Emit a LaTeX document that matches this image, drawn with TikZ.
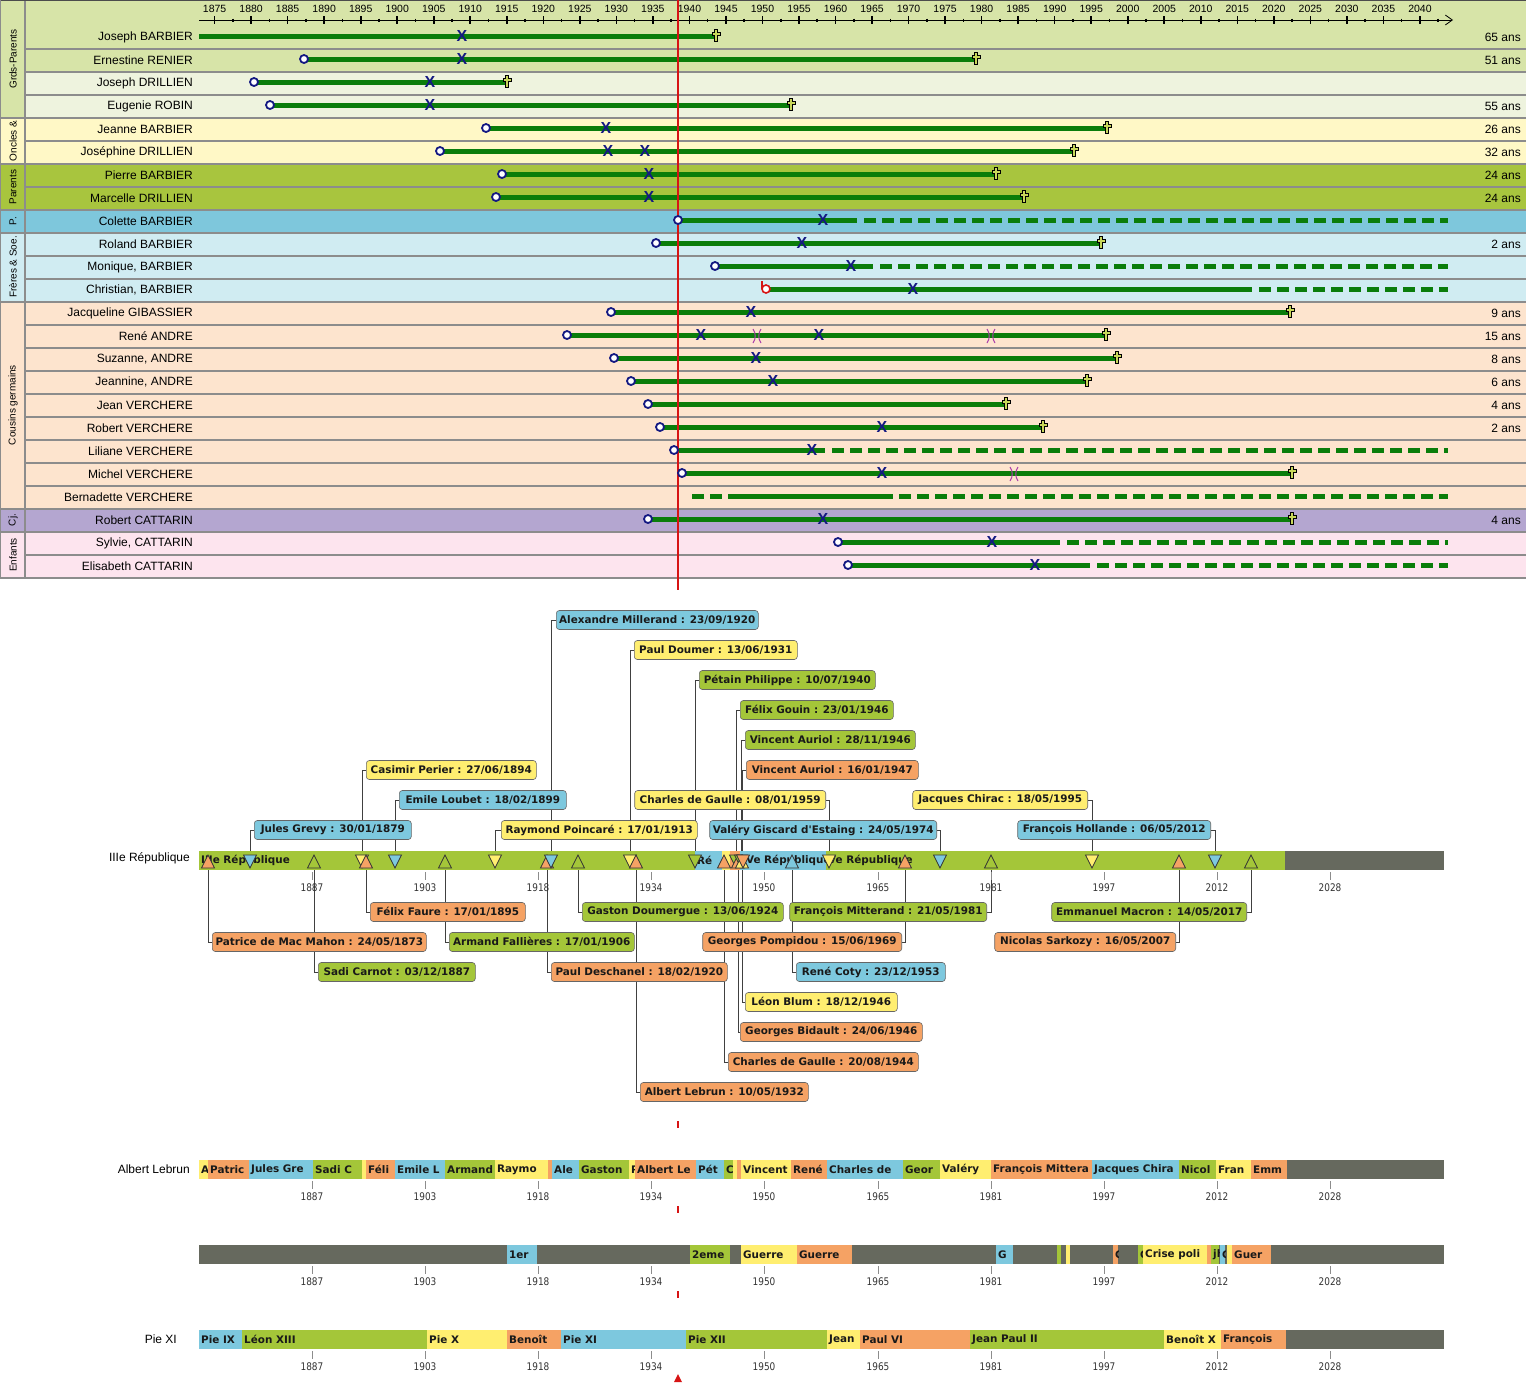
\documentclass[tikz,border=0pt]{standalone}
\usepackage{fontspec}
\setmainfont{Liberation Sans}
\newfontfamily\tahb{DejaVu Sans}
\newfontfamily\tahc[FakeStretch=0.85]{DejaVu Sans}
\usetikzlibrary{arrows.meta}
\pgfdeclarelayer{bg}
\pgfsetlayers{bg,main}
\definecolor{gpA}{RGB}{215,228,168}
\definecolor{gpB}{RGB}{238,243,222}
\definecolor{onc}{RGB}{255,248,198}
\definecolor{par}{RGB}{168,197,62}
\definecolor{pcol}{RGB}{126,199,220}
\definecolor{fre}{RGB}{208,236,242}
\definecolor{cou}{RGB}{253,228,206}
\definecolor{cjc}{RGB}{180,166,208}
\definecolor{enf}{RGB}{253,228,238}
\definecolor{sepg}{RGB}{140,140,140}
\definecolor{lifeg}{RGB}{10,125,10}
\definecolor{navyX}{RGB}{20,25,130}
\definecolor{crossf}{RGB}{200,215,90}
\definecolor{purp}{RGB}{170,60,170}
\definecolor{redl}{RGB}{215,20,20}
\definecolor{tgreen}{RGB}{164,198,57}
\definecolor{tblue}{RGB}{125,200,222}
\definecolor{tyel}{RGB}{255,238,112}
\definecolor{torange}{RGB}{245,162,100}
\definecolor{tgray}{RGB}{102,105,94}
\tikzset{
 nm/.style={anchor=east, inner sep=0pt, font=\fontsize{12}{14}\selectfont},
 grp/.style={rotate=90, inner sep=0pt, font=\fontsize{10}{12}\selectfont},
 life/.style={line width=5pt, draw=lifeg},
 lifedash/.style={line width=5pt, draw=lifeg, dash pattern=on 12pt off 6pt},
 born/.style={circle, draw=navyX, fill=white, line width=1.8pt, minimum size=8pt, inner sep=0pt},
 xm/.style={inner sep=0pt, text=navyX, font=\bfseries\fontsize{16}{16}\selectfont},
 yr/.style={font=\fontsize{10.5}{11}\selectfont, inner sep=0pt},
 callout/.style={draw=black!60, rounded corners=3pt, line width=0.6pt, minimum height=19pt, inner sep=0pt, font=\tahb\bfseries\fontsize{10.4}{12}\selectfont, text=black!90},
 conn/.style={draw=black!75, line width=0.8pt},
 tri/.style={draw=black!80, line width=0.8pt},
 segtxt/.style={anchor=west, inner sep=0pt, font=\tahb\bfseries\fontsize{10.4}{12}\selectfont, text=black!90},
 ylab/.style={font=\tahc\fontsize{10.5}{12}\selectfont, inner sep=0pt, text=black!80},
 dcross/.pic={\filldraw[fill=crossf, draw=black, line width=0.7pt] (-1.5,-6)--(1.5,-6)--(1.5,-3)--(4,-3)--(4,0)--(1.5,0)--(1.5,6)--(-1.5,6)--(-1.5,0)--(-4,0)--(-4,-3)--(-1.5,-3)--cycle;}
}
\newcommand\life[3]{\draw[life] (#1,#3) -- (#2,#3);}
\newcommand\lifed[3]{\draw[lifedash] (#1,#3) -- (#2,#3);}
\newcommand\mB[2]{\node[born] at (#1,#2) {};}
\newcommand\mX[2]{\node[xm] at (#1,#2) {X};}
\newcommand\mD[2]{\pic at (#1,#2-1) {dcross};}
\newcommand\mV[2]{\draw[purp, line width=1pt] (#1-4,#2-6) .. controls (#1-1,#2-2) and (#1-1,#2+4) .. (#1-4,#2+8); \draw[purp, line width=1pt] (#1+4,#2-6) .. controls (#1+1,#2-2) and (#1+1,#2+4) .. (#1+4,#2+8);}
\newcommand\seg[5]{\fill[#4] (#1,#3) rectangle (#2,#3+19);
 \begin{scope}\clip (#1,#3) rectangle (#2,#3+19);
 \node[segtxt] at (#1+2,#3+9.5) {#5};\end{scope}}
\newcommand\tU[3]{\filldraw[tri, fill=#3] (#1-6.5,#2+17) -- (#1+6.5,#2+17) -- (#1,#2+4) -- cycle;}
\newcommand\tD[3]{\filldraw[tri, fill=#3] (#1-6.5,#2+4) -- (#1+6.5,#2+4) -- (#1,#2+17) -- cycle;}
\newcommand\callW[8]{\node[callout, fill=#7, anchor=west, minimum width={(#5-#4)*1pt}] (#1) at (#4,#6) {#8};
 \begin{pgfonlayer}{bg}\draw[conn] (#2,#3) |- (#1.west);\end{pgfonlayer}}
\newcommand\callE[8]{\node[callout, fill=#7, anchor=east, minimum width={(#5-#4)*1pt}] (#1) at (#5,#6) {#8};
 \begin{pgfonlayer}{bg}\draw[conn] (#2,#3) |- (#1.east);\end{pgfonlayer}}
\newcommand\axticks[1]{\foreach \px/\lab in {312/1887,425/1903,538/1918,651/1934,764/1950,878/1965,991/1981,1104/1997,1217/2012,1330/2028}{\draw[black!45, line width=0.8pt] (\px,#1+21) -- (\px,#1+29); \node[ylab] at (\px,#1+37) {\lab};}}
\begin{document}
\begin{tikzpicture}[x=1pt,y=-1pt]
\useasboundingbox (0,0) rectangle (1526,1382);
\begin{pgfonlayer}{bg}
\fill[white] (0,0) rectangle (1526,1382);
\end{pgfonlayer}
% ---------- row backgrounds
\fill[gpA] (25,0) rectangle (1526,48.5);
\foreach \k/\c in {1/gpA,2/gpB,3/gpB,4/onc,5/onc,6/par,7/par,8/pcol,9/fre,10/fre,11/fre,12/cou,13/cou,14/cou,15/cou,16/cou,17/cou,18/cou,19/cou,20/cou,21/cjc,22/enf,23/enf}
  {\fill[\c] (25,{25.5+23*\k}) rectangle (1526,{48.5+23*\k});}
% group cells
\fill[gpA] (0,0) rectangle (25,117.5);
\fill[onc] (0,117.5) rectangle (25,163.5);
\fill[par] (0,163.5) rectangle (25,209.5);
\fill[pcol] (0,209.5) rectangle (25,232.5);
\fill[fre] (0,232.5) rectangle (25,301.5);
\fill[cou] (0,301.5) rectangle (25,508.5);
\fill[cjc] (0,508.5) rectangle (25,531.5);
\fill[enf] (0,531.5) rectangle (25,577.5);
\foreach \k in {0,...,22}{\draw[sepg, line width=2pt] (25,{48.5+23*\k}) -- (1526,{48.5+23*\k});}
\foreach \yy in {117.5,163.5,209.5,232.5,301.5,508.5,531.5,577.5}{\draw[sepg, line width=2pt] (0,\yy) -- (1526,\yy);}
\draw[sepg, line width=1.5pt] (25,0) -- (25,577.5);
\draw[black!70, line width=1pt] (0,0.5) -- (1526,0.5);
\draw[sepg, line width=1pt] (0.5,0) -- (0.5,577.5);
% group labels
\node[grp] (g1) at (13,59) {Grds-Parents};
\node[grp] (g2) at (13,141) {Oncles \&};
\node[grp] (g3) at (13,187) {Parents};
\node[grp] (g4) at (13,221) {P.};
\node[grp] (g5) at (13,267) {Frères \& Soe.};
\node[grp] (g6) at (13,405) {Cousins germains};
\node[grp] (g7) at (13,520) {Cj.};
\node[grp] (g8) at (13,555) {Enfants};
% names
\node[nm] (n0) at (193,37) {Joseph BARBIER};
\node[nm] (n1) at (193,60) {Ernestine RENIER};
\node[nm] (n2) at (193,83) {Joseph DRILLIEN};
\node[nm] (n3) at (193,106) {Eugenie ROBIN};
\node[nm] (n4) at (193,129) {Jeanne BARBIER};
\node[nm] (n5) at (193,152) {Joséphine DRILLIEN};
\node[nm] (n6) at (193,175) {Pierre BARBIER};
\node[nm] (n7) at (193,198) {Marcelle DRILLIEN};
\node[nm] (n8) at (193,221) {Colette BARBIER};
\node[nm] (n9) at (193,244) {Roland BARBIER};
\node[nm] (n10) at (193,267) {Monique, BARBIER};
\node[nm] (n11) at (193,290) {Christian, BARBIER};
\node[nm] (n12) at (193,313) {Jacqueline GIBASSIER};
\node[nm] (n13) at (193,336) {René ANDRE};
\node[nm] (n14) at (193,359) {Suzanne, ANDRE};
\node[nm] (n15) at (193,382) {Jeannine, ANDRE};
\node[nm] (n16) at (193,405) {Jean VERCHERE};
\node[nm] (n17) at (193,428) {Robert VERCHERE};
\node[nm] (n18) at (193,451) {Liliane VERCHERE};
\node[nm] (n19) at (193,474) {Michel VERCHERE};
\node[nm] (n20) at (193,497) {Bernadette VERCHERE};
\node[nm] (n21) at (193,520) {Robert CATTARIN};
\node[nm] (n22) at (193,543) {Sylvie, CATTARIN};
\node[nm] (n23) at (193,566) {Elisabeth CATTARIN};
% ages
\node[nm] (a0) at (1521,37) {65 ans};
\node[nm] (a1) at (1521,60) {51 ans};
\node[nm] (a3) at (1521,106) {55 ans};
\node[nm] (a4) at (1521,129) {26 ans};
\node[nm] (a5) at (1521,152) {32 ans};
\node[nm] (a6) at (1521,175) {24 ans};
\node[nm] (a7) at (1521,198) {24 ans};
\node[nm] (a9) at (1521,244) {2 ans};
\node[nm] (a12) at (1521,313) {9 ans};
\node[nm] (a13) at (1521,336) {15 ans};
\node[nm] (a14) at (1521,359) {8 ans};
\node[nm] (a15) at (1521,382) {6 ans};
\node[nm] (a16) at (1521,405) {4 ans};
\node[nm] (a17) at (1521,428) {2 ans};
\node[nm] (a21) at (1521,520) {4 ans};
% top axis
\draw[line width=0.8pt, -{Straight Barb[length=7pt,width=10pt]}] (199,20) -- (1453,20);
\foreach \yy in {1875,1880,...,2040}{
  \pgfmathsetmacro\xp{214.6+(\yy-1875)*7.305}
  \draw[line width=1.6pt] (\xp,16) -- (\xp,24);
  \draw[line width=1.6pt] (\xp+18.26,18.5) -- (\xp+18.26,21.5);
  \node[yr] at (\xp,9) {\yy};
}
% lifelines
\life{199}{716}{36}
\life{304}{976}{59}
\life{254}{507}{82}
\life{270}{791}{105}
\life{486}{1107}{128}
\life{440}{1074}{151}
\life{502}{996}{174}
\life{496}{1024}{197}
\life{678}{857}{220}\lifed{864}{1448}{220}
\life{656}{1101}{243}
\life{715}{873}{266}\lifed{880}{1448}{266}
\life{766}{1252}{289}\lifed{1259}{1448}{289}
\life{611}{1290}{312}
\life{567}{1106}{335}
\life{614}{1117}{358}
\life{631}{1087}{381}
\life{648}{1006}{404}
\life{660}{1043}{427}
\life{674}{825}{450}\lifed{832}{1448}{450}
\life{682}{1292}{473}
\lifed{692}{722}{496}\life{728}{893}{496}\lifed{899}{1448}{496}
\life{648}{1292}{519}
\life{838}{1060}{542}\lifed{1067}{1448}{542}
\life{848}{1090}{565}\lifed{1097}{1448}{565}
% red line
\draw[redl, line width=2pt] (678,0) -- (678,590);
% markers
\mX{462}{36}\mD{716}{36}
\mB{304}{59}\mX{462}{59}\mD{976}{59}
\mB{254}{82}\mX{430}{82}\mD{507}{82}
\mB{270}{105}\mX{430}{105}\mD{791}{105}
\mB{486}{128}\mX{606}{128}\mD{1107}{128}
\mB{440}{151}\mX{608}{151}\mX{645}{151}\mD{1074}{151}
\mB{502}{174}\mX{649}{174}\mD{996}{174}
\mB{496}{197}\mX{649}{197}\mD{1024}{197}
\mB{678}{220}\mX{823}{220}
\mB{656}{243}\mX{802}{243}\mD{1101}{243}
\mB{715}{266}\mX{851}{266}
\node[circle, draw=redl, fill=white, line width=1.6pt, minimum size=8pt, inner sep=0pt] (cb) at (766,289) {};
\draw[redl, line width=1.6pt] (762.2,281) -- (762.2,289);
\mX{913}{289}
\mB{611}{312}\mX{751}{312}\mD{1290}{312}
\mB{567}{335}\mX{701}{335}\mV{757}{335}\mX{819}{335}\mV{991}{335}\mD{1106}{335}
\mB{614}{358}\mX{756}{358}\mD{1117}{358}
\mB{631}{381}\mX{773}{381}\mD{1087}{381}
\mB{648}{404}\mD{1006}{404}
\mB{660}{427}\mX{882}{427}\mD{1043}{427}
\mB{674}{450}\mX{812}{450}
\mB{682}{473}\mX{882}{473}\mV{1014}{473}\mD{1292}{473}
\mB{648}{519}\mX{823}{519}\mD{1292}{519}
\mB{838}{542}\mX{992}{542}
\mB{848}{565}\mX{1035}{565}
% ---------- timeline 1
\node[nm] (bn1) at (190,858) {IIIe République};
\seg{199}{695}{851}{tgreen}{IIIe République}
\seg{695}{722}{851}{tblue}{Ré}
\seg{722}{730}{851}{tyel}{}
\seg{730}{740}{851}{torange}{}
\seg{740}{826}{851}{tblue}{IVe République}
\seg{826}{1285}{851}{tgreen}{Ve République}
\seg{1285}{1444}{851}{tgray}{}
\tU{208}{851}{torange}\tD{250}{851}{tblue}\tU{314}{851}{tgreen}
\tD{362}{851}{tyel}\tU{366}{851}{torange}\tD{395}{851}{tblue}
\tU{445}{851}{tgreen}\tD{495}{851}{tyel}\tU{547}{851}{torange}
\tD{551}{851}{tblue}\tU{578}{851}{tgreen}\tD{630}{851}{tyel}
\tU{636}{851}{torange}\tD{695}{851}{tgreen}\tU{724}{851}{torange}
\tD{736}{851}{tgreen}\tU{738}{851}{torange}\tD{741}{851}{tgreen}
\tU{742}{851}{tyel}\tD{743}{851}{torange}\tU{792}{851}{tblue}
\tD{829}{851}{tyel}\tU{905}{851}{torange}\tD{940}{851}{tblue}
\tU{991}{851}{tgreen}\tD{1092}{851}{tyel}\tU{1179}{851}{torange}
\tD{1215}{851}{tblue}\tU{1251}{851}{tgreen}
\axticks{851}
% callouts above
\callW{cMil}{551}{851}{556}{758}{620}{tblue}{Alexandre Millerand : 23/09/1920}
\callW{cDou}{630}{851}{634}{797}{650}{tyel}{Paul Doumer : 13/06/1931}
\callW{cPet}{695}{851}{699}{875}{680}{tgreen}{Pétain Philippe : 10/07/1940}
\callW{cGou}{736}{851}{740}{893}{710}{tgreen}{Félix Gouin : 23/01/1946}
\callW{cAuA}{741}{851}{745}{915}{740}{tgreen}{Vincent Auriol : 28/11/1946}
\callW{cAuB}{742}{851}{746}{918}{770}{torange}{Vincent Auriol : 16/01/1947}
\callW{cPer}{362}{851}{366}{536}{770}{tyel}{Casimir Perier : 27/06/1894}
\callW{cLou}{395}{851}{399}{566}{800}{tblue}{Emile Loubet : 18/02/1899}
\callE{cDGb}{829}{851}{635}{826}{800}{tyel}{Charles de Gaulle : 08/01/1959}
\callE{cChi}{1092}{851}{913}{1088}{800}{tyel}{Jacques Chirac : 18/05/1995}
\callW{cGre}{250}{851}{254}{411}{830}{tblue}{Jules Grevy : 30/01/1879}
\callW{cPoi}{495}{851}{501}{697}{830}{tyel}{Raymond Poincaré : 17/01/1913}
\callE{cGis}{940}{851}{710}{937}{830}{tblue}{Valéry Giscard d'Estaing : 24/05/1974}
\callE{cHol}{1215}{851}{1018}{1211}{830}{tblue}{François Hollande : 06/05/2012}
% callouts below
\callW{cFau}{366}{870}{370}{525}{912}{torange}{Félix Faure : 17/01/1895}
\callW{cDgu}{578}{870}{582}{783}{912}{tgreen}{Gaston Doumergue : 13/06/1924}
\callE{cMit}{991}{870}{790}{987}{912}{tgreen}{François Mitterand : 21/05/1981}
\callE{cMac}{1251}{870}{1052}{1247}{912}{tgreen}{Emmanuel Macron : 14/05/2017}
\callW{cMM}{208}{870}{212}{426}{942}{torange}{Patrice de Mac Mahon : 24/05/1873}
\callW{cFal}{445}{870}{449}{634}{942}{tgreen}{Armand Fallières : 17/01/1906}
\callE{cPom}{905}{870}{703}{902}{942}{torange}{Georges Pompidou : 15/06/1969}
\callE{cSar}{1179}{870}{995}{1176}{942}{torange}{Nicolas Sarkozy : 16/05/2007}
\callW{cCar}{314}{870}{318}{475}{972}{tgreen}{Sadi Carnot : 03/12/1887}
\callW{cDes}{547}{870}{551}{727}{972}{torange}{Paul Deschanel : 18/02/1920}
\callW{cCot}{792}{870}{796}{945}{972}{tblue}{René Coty : 23/12/1953}
\callW{cBlu}{742}{870}{745}{897}{1002}{tyel}{Léon Blum : 18/12/1946}
\callW{cBid}{738}{870}{740}{922}{1032}{torange}{Georges Bidault : 24/06/1946}
\callW{cDGa}{724}{870}{728}{918}{1062}{torange}{Charles de Gaulle : 20/08/1944}
\callW{cLeb}{636}{870}{640}{808}{1092}{torange}{Albert Lebrun : 10/05/1932}
\draw[redl, line width=2pt] (678,1121) -- (678,1128);
% ---------- timeline 2
\node[nm] (bn2) at (190,1169) {Albert Lebrun};
\seg{199}{208}{1160}{tyel}{A}
\seg{208}{249}{1160}{torange}{Patric}
\seg{249}{313}{1160}{tblue}{Jules Gre}
\seg{313}{362}{1160}{tgreen}{Sadi C}
\seg{362}{366}{1160}{tyel}{}
\seg{366}{395}{1160}{torange}{Féli}
\seg{395}{445}{1160}{tblue}{Emile L}
\seg{445}{495}{1160}{tgreen}{Armand}
\seg{495}{548}{1160}{tyel}{Raymo}
\seg{548}{552}{1160}{torange}{}
\seg{552}{579}{1160}{tblue}{Ale}
\seg{579}{629}{1160}{tgreen}{Gaston}
\seg{629}{635}{1160}{tyel}{P}
\seg{635}{696}{1160}{torange}{Albert Le}
\seg{696}{724}{1160}{tblue}{Pét}
\seg{724}{733}{1160}{tgreen}{C}
\seg{733}{737}{1160}{tyel}{}
\seg{737}{741}{1160}{torange}{}
\seg{741}{791}{1160}{tyel}{Vincent}
\seg{791}{827}{1160}{torange}{René}
\seg{827}{903}{1160}{tblue}{Charles de}
\seg{903}{940}{1160}{tgreen}{Geor}
\seg{940}{991}{1160}{tyel}{Valéry}
\seg{991}{1092}{1160}{torange}{François Mittera}
\seg{1092}{1179}{1160}{tblue}{Jacques Chira}
\seg{1179}{1216}{1160}{tgreen}{Nicol}
\seg{1216}{1251}{1160}{tyel}{Fran}
\seg{1251}{1287}{1160}{torange}{Emm}
\seg{1287}{1444}{1160}{tgray}{}
\axticks{1160}
\draw[redl, line width=2pt] (678,1206) -- (678,1213);
% ---------- timeline 3
\fill[tgray] (199,1245) rectangle (1444,1264);
\seg{507}{537}{1245}{tblue}{1er}
\seg{690}{730}{1245}{tgreen}{2eme}
\seg{741}{797}{1245}{tyel}{Guerre}
\seg{797}{852}{1245}{torange}{Guerre}
\seg{996}{1013}{1245}{tblue}{G}
\seg{1057}{1061}{1245}{tgreen}{}
\seg{1066}{1070}{1245}{tyel}{}
\seg{1113}{1118}{1245}{torange}{C}
\seg{1138}{1143}{1245}{tgreen}{C}
\seg{1143}{1207}{1245}{tyel}{Crise poli}
\seg{1207}{1211}{1245}{torange}{}
\seg{1211}{1219}{1245}{tgreen}{jh}
\seg{1220}{1225}{1245}{tblue}{C}
\seg{1227}{1232}{1245}{tyel}{}
\seg{1232}{1271}{1245}{torange}{Guer}
\axticks{1245}
\draw[redl, line width=2pt] (678,1291) -- (678,1298);
% ---------- timeline 4
\node[nm] (bn4) at (177,1339) {Pie XI};
\seg{199}{242}{1330}{tblue}{Pie IX}
\seg{242}{427}{1330}{tgreen}{Léon XIII}
\seg{427}{507}{1330}{tyel}{Pie X}
\seg{507}{561}{1330}{torange}{Benoît}
\seg{561}{686}{1330}{tblue}{Pie XI}
\seg{686}{827}{1330}{tgreen}{Pie XII}
\seg{827}{860}{1330}{tyel}{Jean}
\seg{860}{970}{1330}{torange}{Paul VI}
\seg{970}{1164}{1330}{tgreen}{Jean Paul II}
\seg{1164}{1221}{1330}{tyel}{Benoît X}
\seg{1221}{1286}{1330}{torange}{François}
\seg{1286}{1444}{1330}{tgray}{}
\axticks{1330}
\fill[redl] (678,1374) -- (674,1382) -- (682,1382) -- cycle;
\end{tikzpicture}
\end{document}
